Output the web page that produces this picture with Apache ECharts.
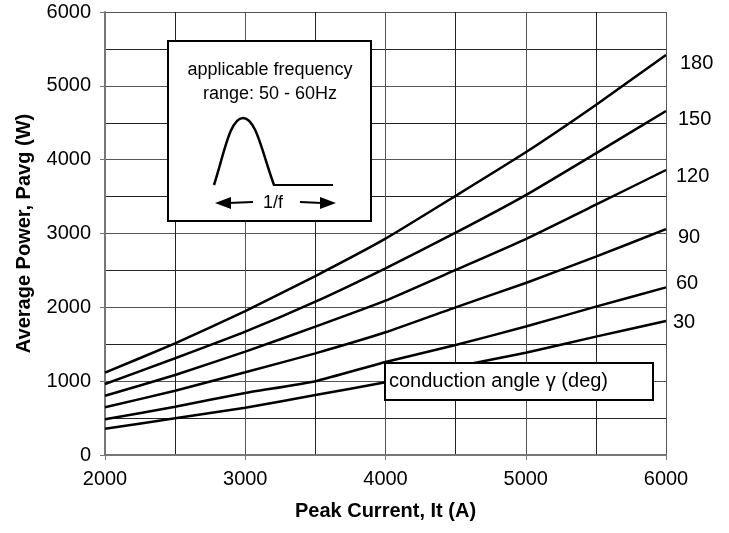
<!DOCTYPE html>
<html>
<head>
<meta charset="utf-8">
<script src="https://cdn.jsdelivr.net/npm/echarts@6/dist/echarts.min.js"></script>
<style>
  html, body { margin: 0; padding: 0; background: #fff; }
  #chart { width: 729px; height: 533px; }
</style>
</head>
<body>
<div id="chart"></div>
<script>
// peak current (A)
const currents = [2000, 2500, 3000, 3500, 4000, 4500, 5000, 5500, 6000]
// conduction angle (deg) -> average power (W)
const angles = ['180', '150', '120', '90', '60', '30']
const p180 = [1115, 1513, 1950, 2424, 2930, 3510, 4100, 4741, 5418]
const p150 = [962, 1310, 1670, 2077, 2529, 3011, 3520, 4086, 4659]
const p120 = [803, 1084, 1400, 1738, 2090, 2506, 2925, 3390, 3860]
const p90 = [646, 871, 1120, 1377, 1662, 2000, 2330, 2686, 3060]
const p60 = [483, 654, 840, 1000, 1260, 1490, 1740, 2009, 2270]
const p30 = [356, 497, 640, 813, 985, 1195, 1385, 1603, 1815]
const powers = [p180, p150, p120, p90, p60, p30]

const font = '"Liberation Sans", Arial, Helvetica, sans-serif'
// small nudges so the end labels sit like the original
const labelOffsets = [[4, 9], [2, 8], [0, 6], [2, 8], [0, -4], [-3, 1]]

const chart = echarts.init(document.getElementById('chart'))

const series = angles.map((a, i) => ({
  name: a,
  type: 'line',
  data: currents.map((c, j) => [c, powers[i][j]]),
  smooth: 0.15,
  showSymbol: false,
  lineStyle: { color: '#000', width: 2.5 },
  endLabel: {
    show: true,
    formatter: '{a}',
    color: '#000',
    fontFamily: font,
    fontSize: 20,
    distance: 10,
    offset: labelOffsets[i]
  },
  z: 3
}))

const plain = v => String(v)

const option = {
  animation: false,
  backgroundColor: '#fff',
  grid: { left: 105, right: 63, top: 12, bottom: 78, containLabel: false },
  xAxis: {
    type: 'value',
    min: 2000,
    max: 6000,
    interval: 1000,
    name: 'Peak Current, It (A)',
    nameLocation: 'middle',
    nameGap: 46,
    nameTextStyle: { fontFamily: font, fontSize: 20, fontWeight: 'bold', color: '#000' },
    axisLine: { show: true, lineStyle: { color: '#777', width: 2 } },
    axisTick: { show: true, length: 5, lineStyle: { color: '#777' } },
    axisLabel: { fontFamily: font, fontSize: 20, color: '#000', margin: 14, formatter: plain },
    splitLine: { show: true, lineStyle: { color: '#555', width: 1 } },
    minorTick: { show: false, splitNumber: 2 },
    minorSplitLine: { show: true, lineStyle: { color: '#222', width: 1 } }
  },
  yAxis: {
    type: 'value',
    min: 0,
    max: 6000,
    interval: 1000,
    name: 'Average Power, Pavg (W)',
    nameLocation: 'middle',
    nameGap: 71,
    nameTextStyle: { fontFamily: font, fontSize: 20, fontWeight: 'bold', color: '#000' },
    axisLine: { show: true, lineStyle: { color: '#777', width: 2 } },
    axisTick: { show: true, length: 5, lineStyle: { color: '#777' } },
    axisLabel: { fontFamily: font, fontSize: 20, color: '#000', margin: 14, formatter: plain },
    splitLine: { show: true, lineStyle: { color: '#555', width: 1 } },
    minorTick: { show: false, splitNumber: 2 },
    minorSplitLine: { show: true, lineStyle: { color: '#222', width: 1 } }
  },
  graphic: [
    // frequency note box
    {
      type: 'rect',
      z: 100,
      shape: { x: 168, y: 41, width: 203, height: 180 },
      style: { fill: '#fff', stroke: '#000', lineWidth: 2 }
    },
    {
      type: 'text',
      z: 101,
      x: 270, y: 70,
      style: { text: 'applicable frequency', font: '18px ' + font, fill: '#000', align: 'center', verticalAlign: 'middle' }
    },
    {
      type: 'text',
      z: 101,
      x: 270, y: 94,
      style: { text: 'range: 50 - 60Hz', font: '18px ' + font, fill: '#000', align: 'center', verticalAlign: 'middle' }
    },
    {
      type: 'bezierCurve',
      z: 101,
      shape: { x1: 214, y1: 185, cpx1: 224, cpy1: 154, cpx2: 230, cpy2: 118, x2: 243, y2: 118 },
      style: { fill: null, stroke: '#000', lineWidth: 2.5 }
    },
    {
      type: 'bezierCurve',
      z: 101,
      shape: { x1: 243, y1: 118, cpx1: 256, cpy1: 118, cpx2: 262, cpy2: 152, x2: 274, y2: 185 },
      style: { fill: null, stroke: '#000', lineWidth: 2.5 }
    },
    {
      type: 'line',
      z: 101,
      shape: { x1: 273, y1: 185, x2: 333, y2: 185 },
      style: { stroke: '#000', lineWidth: 2 }
    },
    {
      type: 'text',
      z: 101,
      x: 273, y: 203,
      style: { text: '1/f', font: '18px ' + font, fill: '#000', align: 'center', verticalAlign: 'middle' }
    },
    {
      type: 'line',
      z: 101,
      shape: { x1: 228, y1: 203, x2: 253, y2: 202 },
      style: { stroke: '#000', lineWidth: 2 }
    },
    {
      type: 'polygon',
      z: 101,
      shape: { points: [[215, 203], [231, 197], [231, 209]] },
      style: { fill: '#000' }
    },
    {
      type: 'line',
      z: 101,
      shape: { x1: 300, y1: 202, x2: 322, y2: 203 },
      style: { stroke: '#000', lineWidth: 2 }
    },
    {
      type: 'polygon',
      z: 101,
      shape: { points: [[336, 203], [320, 197], [320, 209]] },
      style: { fill: '#000' }
    },
    // caption box for the curve labels
    {
      type: 'rect',
      z: 100,
      shape: { x: 385, y: 363, width: 268, height: 37 },
      style: { fill: '#fff', stroke: '#000', lineWidth: 2 }
    },
    {
      type: 'text',
      z: 101,
      x: 389, y: 381,
      style: { text: 'conduction angle γ (deg)', font: '20px ' + font, fill: '#000', align: 'left', verticalAlign: 'middle' }
    }
  ],
  series: series
}

chart.setOption(option)

window.addEventListener('resize', () => {
  chart.resize()
})
</script>
</body>
</html>
